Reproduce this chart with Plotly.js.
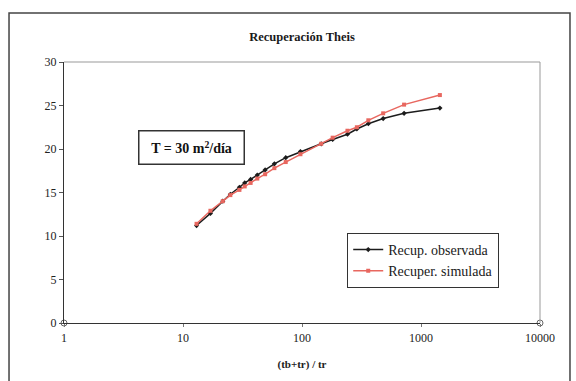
<!DOCTYPE html>
<html>
<head>
<meta charset="utf-8">
<script src="https://cdn.plot.ly/plotly-3.0.1.min.js"></script>
<style>html,body{margin:0;padding:0;background:#fff;}#chart{width:576px;height:381px;}</style>
</head>
<body>
<div id="chart"></div>
<script>
// (tb+tr)/tr
const xRatio = [13, 17, 21.6, 25, 29.8, 33, 37, 42.1, 49, 58.6, 73, 97, 145, 181, 241, 289, 361, 481, 721, 1441];
// Recuperación observada
const yObservada = [11.2, 12.6, 14.0, 14.8, 15.6, 16.1, 16.5, 17.0, 17.6, 18.3, 19.0, 19.7, 20.6, 21.1, 21.7, 22.3, 22.9, 23.5, 24.1, 24.7];
// Recuperación simulada
const ySimulada = [11.4, 12.9, 14.0, 14.7, 15.3, 15.7, 16.1, 16.6, 17.1, 17.8, 18.5, 19.4, 20.6, 21.3, 22.1, 22.5, 23.3, 24.1, 25.1, 26.2];
const seriesNames = ['Recup. observada', 'Recuper. simulada'];
const xTicks = [1, 10, 100, 1000, 10000];
const xTickLabels = ['1', '10', '100', '1000', '10000'];
const yTicks = [0, 5, 10, 15, 20, 25, 30];
const axisEndsX = [1, 10000];
const axisEndsY = [0, 0];

const serif = 'Liberation Serif';

const traces = [
  {x: xRatio, y: yObservada, name: seriesNames[0], type: 'scatter', mode: 'lines+markers',
   line: {color: '#1c1c1c', width: 1.5}, marker: {color: '#1c1c1c', size: 4, symbol: 'diamond'}},
  {x: xRatio, y: ySimulada, name: seriesNames[1], type: 'scatter', mode: 'lines+markers',
   line: {color: '#e8675f', width: 1.5}, marker: {color: '#e8675f', size: 4, symbol: 'square'}},
  {x: axisEndsX, y: axisEndsY, type: 'scatter', mode: 'markers', showlegend: false, hoverinfo: 'skip',
   marker: {color: '#fff', size: 6, symbol: 'circle', line: {color: '#666', width: 1}}, cliponaxis: false}
];

const layout = {
  width: 576, height: 381,
  margin: {l: 64, r: 36, t: 62, b: 58},
  paper_bgcolor: '#fff', plot_bgcolor: '#fff',
  font: {family: serif},
  showlegend: true,
  title: {text: '<b>Recuperación Theis</b>', x: 0.5, xref: 'paper', xanchor: 'center', y: 0.903, yanchor: 'middle',
          font: {family: serif, size: 12.5, color: '#1a1a1a'}},
  xaxis: {type: 'log', range: [0, 4], tickvals: xTicks, ticktext: xTickLabels,
          showgrid: false, zeroline: false, showline: true, linecolor: '#333', linewidth: 1.2,
          ticks: 'outside', ticklen: 3, tickcolor: '#777',
          tickfont: {family: serif, size: 12, color: '#222'},
          title: {text: '<b>(tb+tr) / tr</b>', font: {family: serif, size: 11, color: '#222'}, standoff: 16}},
  yaxis: {range: [0, 30], tickvals: yTicks, showgrid: false, zeroline: false,
          showline: true, linecolor: '#333', linewidth: 1.2,
          ticks: 'outside', ticklen: 4, tickcolor: '#555',
          tickfont: {family: serif, size: 12, color: '#222'}},
  legend: {x: 0.595, y: 0.345, xanchor: 'left', yanchor: 'top',
           bgcolor: '#fff', bordercolor: '#333', borderwidth: 1,
           font: {family: serif, size: 14, color: '#1a1a1a'},
           tracegroupgap: 2, itemwidth: 30},
  annotations: [
    {text: '<b>T = 30 m<sup>2</sup>/día</b>', xref: 'paper', yref: 'paper', x: 0.267, y: 0.672,
     xanchor: 'center', yanchor: 'middle', showarrow: false,
     font: {family: serif, size: 14, color: '#111'},
     bordercolor: '#333', borderwidth: 1.5, borderpad: 1, width: 102, height: 30, bgcolor: '#fff'}
  ],
  shapes: [
    {type: 'line', xref: 'paper', yref: 'paper', x0: 0, x1: 1, y0: 1, y1: 1, line: {color: '#999', width: 1}},
    {type: 'line', xref: 'paper', yref: 'paper', x0: 1, x1: 1, y0: 0, y1: 1, line: {color: '#999', width: 1}},
    {type: 'rect', xref: 'paper', yref: 'paper', x0: -0.1155, x1: 1.063, y0: -0.3, y1: 1.1877,
     line: {color: '#444', width: 1.5}, layer: 'below'}
  ]
};

Plotly.newPlot('chart', traces, layout, {displayModeBar: false, staticPlot: true});
</script>
</body>
</html>
